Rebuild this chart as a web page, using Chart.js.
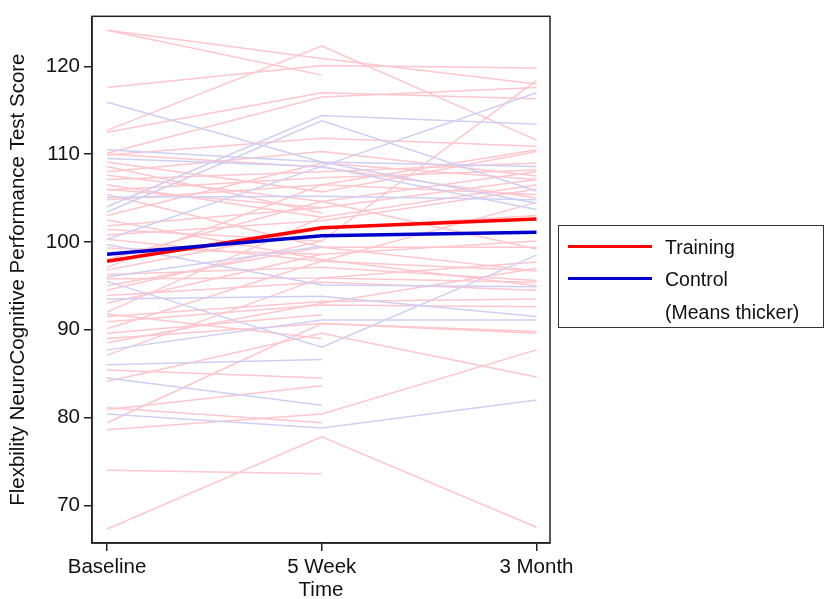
<!DOCTYPE html>
<html>
<head>
<meta charset="utf-8">
<script src="https://cdn.jsdelivr.net/npm/chart.js@4"></script>
<style>
  html, body { margin: 0; padding: 0; background: #fff; overflow: hidden; }
  #wrap { position: relative; width: 827px; height: 603px; }
  #legend {
    position: absolute; left: 558px; top: 225px; width: 266px; height: 103px;
    border: 1.5px solid #333; box-sizing: border-box;
    font-family: "Liberation Sans", Arial, sans-serif; font-size: 19.5px; color: #111;
  }
  .swatch { position: absolute; left: 9px; width: 84px; height: 3px; }
  .lbl { position: absolute; left: 106px; white-space: nowrap; }
</style>
</head>
<body>
<div id="wrap">
  <canvas id="chart" width="827" height="603"></canvas>
  <div id="legend">
    <div class="swatch" style="top:19px;background:#ff0000"></div>
    <div class="lbl" style="top:10px">Training</div>
    <div class="swatch" style="top:51px;background:#0000cc"></div>
    <div class="lbl" style="top:42px">Control</div>
    <div class="lbl" style="top:75px">(Means thicker)</div>
  </div>
</div>
<script>
const TIMES = ['Baseline', '5 Week', '3 Month'];
const Y_TICKS = [70, 80, 90, 100, 110, 120];

// training subjects, one entry per subject, null = missing visit
const trainBase = [124.1, 124.1, 117.6, 112.7, 112.5, 110.1, 109.9, 109.1, 108.6, 108.0,
  107.6, 107.1, 106.5, 105.9, 105.4, 104.8, 101.8, 101.4, 100.8, 100.3,
  99.3, 97.1, 96.3, 95.8, 95.0, 94.5, 93.9, 92.0, 91.5, 90.9,
  90.1, 89.6, 89.0, 87.1, 85.4, 84.1, 80.9, 81.1, 79.4, 78.6,
  74.0, 67.3, 106.0, 103.0, 98.0, 96.8, 93.0, 102.5, 110.0, 88.5, 91.8];
const trainWk5 = [119.0, 120.9, 120.1, 122.3, 117.0, 116.5, 111.8, 105.7, 103.3, 110.3,
  104.6, 108.0, 102.8, 107.3, 99.4, 106.5, 103.9, 100.1, 102.4, 97.8,
  98.6, 106.5, 97.1, 95.9, 99.4, 100.1, 95.4, 102.8, 93.2, 92.8,
  97.8, 91.7, 90.7, 95.9, 84.5, 89.6, 83.6, 79.4, 90.7, 80.4,
  73.6, 77.8, 103.9, 109.0, 104.6, 101.5, 98.6, 98.0, 108.5, 93.0, 89.0];
const trainMo3 = [null, 118.0, 119.8, 111.6, 116.3, 117.6, 110.9, 110.3, null, 107.5,
  99.2, 109.0, 106.5, 108.2, 96.7, 105.4, 107.1, 118.4, 106.0, 104.5,
  100.1, 110.5, 95.6, 97.7, 99.4, null, 94.5, null, 93.5, 92.6,
  96.7, null, 89.8, 95.4, null, 84.6, null, null, 89.6, 87.7,
  null, 67.5, null, 107.1, 108.0, 103.0, null, 95.0, 105.0, 97.0, null];

// control subjects
const ctrlBase = [115.9, 110.5, 109.5, 105.1, 104.0, 103.4, 99.7, 100.3, 95.5, 93.5, 87.7, 86.0, 84.5, 80.4, 96.0];
const ctrlWk5  = [109.1, 109.1, 108.6, 105.2, 114.4, 113.8, 95.1, 108.6, 88.0, 93.8, 91.1, 86.6, 81.4, 78.8, 99.5];
const ctrlMo3  = [104.4, 108.6, 103.7, 104.8, 113.4, 105.8, 94.9, 117.0, 98.5, 91.5, 91.1, null, null, 82.0, null];

// group means
const meanTraining = [97.8, 101.6, 102.6];
const meanControl  = [98.6, 100.7, 101.1];

const FONT = '"Liberation Sans", Arial, sans-serif';
const PINK = '#ffc6cd';
const LAV = '#cfcff4';

function pts(vals) {
  return vals.map((v, i) => ({ x: i, y: v }));
}

function subjectSets(b, w, m, color, order) {
  return b.map((v, i) => ({
    data: pts([v, w[i], m[i]]),
    borderColor: color,
    borderWidth: 1.5,
    pointRadius: 0,
    order,
  }));
}

const datasets = [
  ...subjectSets(trainBase, trainWk5, trainMo3, PINK, 3),
  ...subjectSets(ctrlBase, ctrlWk5, ctrlMo3, LAV, 2),
  { data: pts(meanTraining), borderColor: '#ff0000', borderWidth: 3.5, pointRadius: 0, order: 1 },
  { data: pts(meanControl), borderColor: '#0000cc', borderWidth: 3.5, pointRadius: 0, order: 0 },
];

const frame = {
  id: 'frame',
  afterDraw(chart) {
    const a = chart.chartArea, ctx = chart.ctx;
    ctx.save();
    ctx.strokeStyle = '#222';
    ctx.lineWidth = 1.5;
    ctx.strokeRect(a.left, a.top, a.right - a.left, a.bottom - a.top);
    ctx.restore();
  }
};

new Chart(document.getElementById('chart'), {
  type: 'line',
  data: { datasets },
  plugins: [frame],
  options: {
    responsive: false,
    animation: false,
    spanGaps: false,
    layout: { padding: { left: 6, top: 12, right: 277, bottom: 0 } },
    plugins: { legend: { display: false }, tooltip: { enabled: false } },
    elements: { line: { tension: 0 } },
    scales: {
      x: {
        type: 'linear',
        min: -0.07,
        max: 2.063,
        afterBuildTicks: s => { s.ticks = TIMES.map((t, i) => ({ value: i })); },
        afterFit: s => { s.height = 60; },
        ticks: {
          callback: v => TIMES[v],
          color: '#111',
          padding: 4,
          maxRotation: 0,
          font: { family: FONT, size: 20.5 },
        },
        grid: { drawOnChartArea: false, drawTicks: true, tickLength: 8, color: '#222', lineWidth: 1.5 },
        border: { color: '#222', width: 1.5 },
        title: { display: true, text: 'Time', color: '#111', padding: { top: 2, bottom: 0 },
          font: { family: FONT, size: 20.5 } },
      },
      y: {
        min: 65.7,
        max: 125.7,
        afterBuildTicks: s => { s.ticks = Y_TICKS.map(v => ({ value: v })); },
        afterFit: s => { s.width = 86; },
        ticks: { color: '#111', padding: 4, font: { family: FONT, size: 20.5 } },
        grid: { drawOnChartArea: false, drawTicks: true, tickLength: 8, color: '#222', lineWidth: 1.5 },
        border: { color: '#222', width: 1.5 },
        title: { display: true, text: 'Flexbility NeuroCognitive Performance Test Score', color: '#111',
          padding: { top: 0, bottom: 0 }, font: { family: FONT, size: 20.5 } },
      },
    },
  },
});
</script>
</body>
</html>
